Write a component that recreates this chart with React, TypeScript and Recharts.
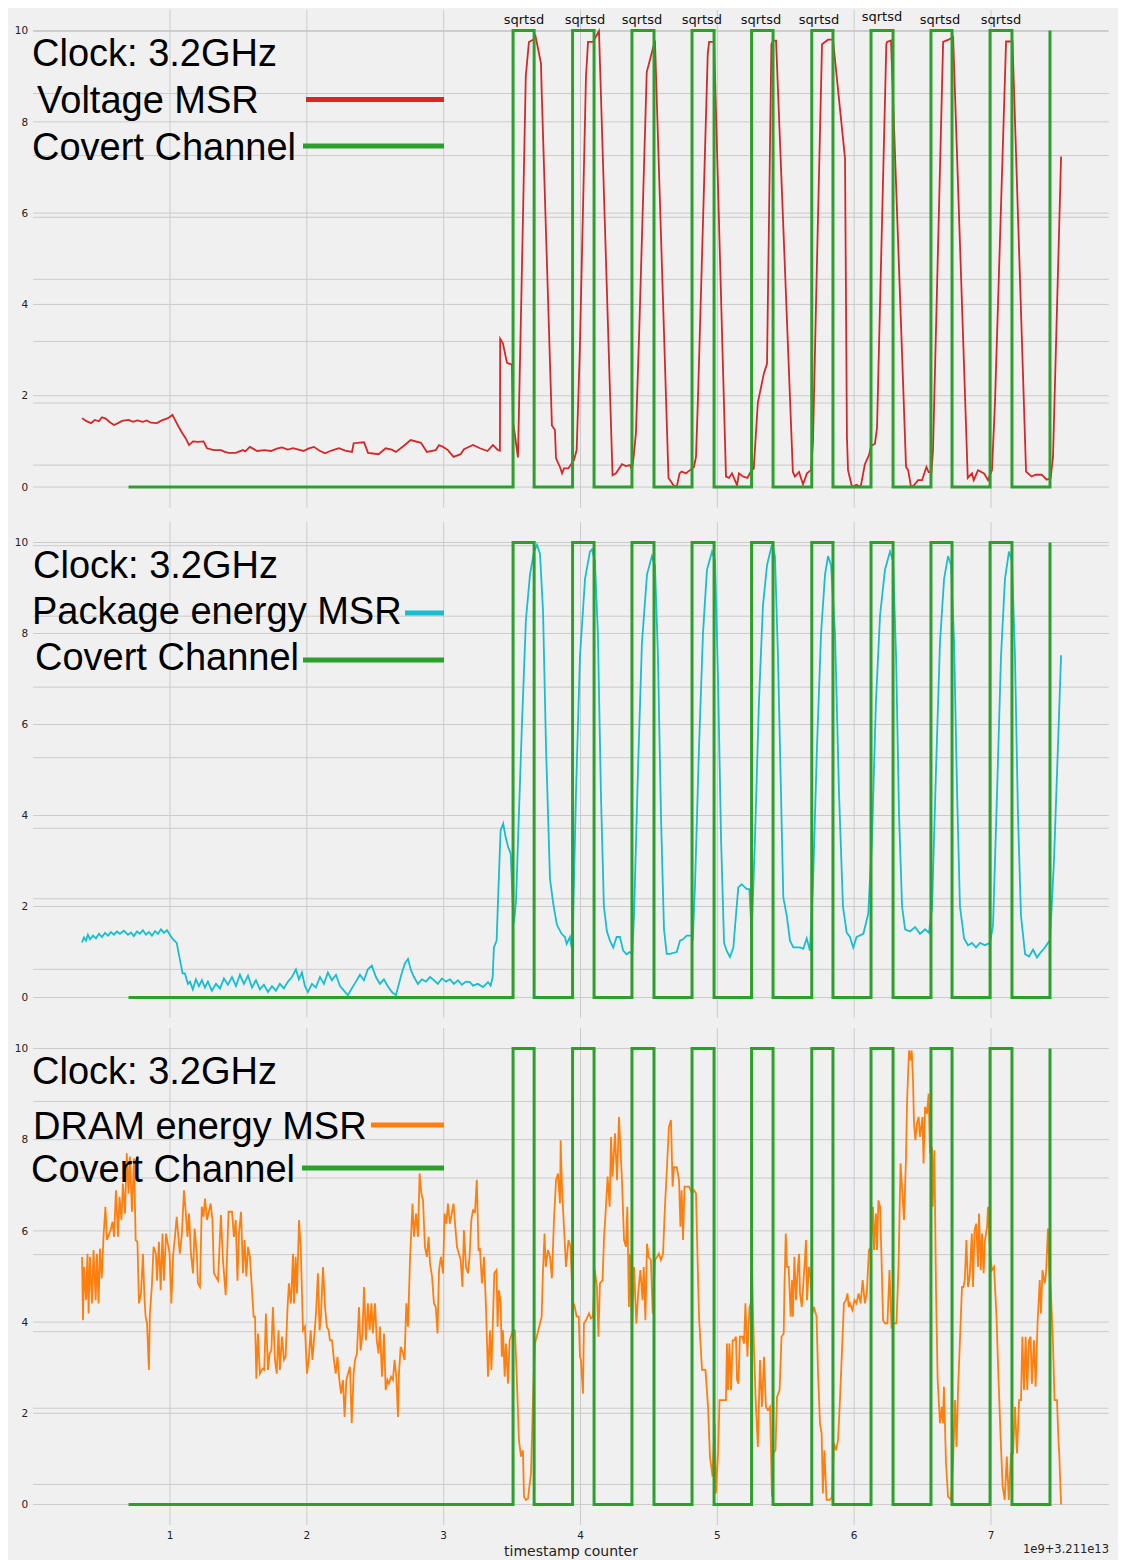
import { LineChart, Line, XAxis, YAxis, CartesianGrid, ReferenceDot } from 'recharts'

// x values are timestamp / 1e9 (offset 3.211e13), y values in plot units
const X_TICKS = [1, 2, 3, 4, 5, 6, 7]
const Y_TICKS = [0, 2, 4, 6, 8, 10]

const channelEdges = [0.697, 3.507, 3.661, 3.942, 4.099, 4.376, 4.537, 4.815, 4.976, 5.25, 5.407, 5.69, 5.845, 6.123, 6.284, 6.561, 6.715, 6.993, 7.153, 7.431]
const channelLevels = [0, 10, 0, 10, 0, 10, 0, 10, 0, 10, 0, 10, 0, 10, 0, 10, 0, 10, 0, 10]

const sqrtsdAt = [3.587, 4.033, 4.449, 4.887, 5.319, 5.743, 6.203, 6.627, 7.073]
const sqrtsdLevel = [10.25, 10.25, 10.25, 10.25, 10.25, 10.25, 10.3, 10.25, 10.25]

// secondary (twin axis) grid lines, expressed in left-axis units
const twinGrid1 = [0.48, 1.84, 3.19, 4.55, 5.91, 7.26, 8.62, 9.98]
const twinGrid2 = [0.62, 2.17, 3.72, 5.27, 6.82, 8.38, 9.93]
const twinGrid3 = [0.44, 2.11, 3.79, 5.48, 7.16, 8.84]

const voltageT = [
  0.357, 0.386, 0.422, 0.45, 0.48, 0.503, 0.53, 0.56, 0.591, 0.62, 0.65, 0.697, 0.73, 0.76, 0.802, 0.83, 0.86, 0.905, 0.94, 0.985,
  1.018, 1.04, 1.063, 1.09, 1.114, 1.139, 1.168, 1.204, 1.245, 1.27, 1.321, 1.372, 1.4, 1.428, 1.48, 1.533, 1.55, 1.584, 1.636, 1.69,
  1.738, 1.78, 1.818, 1.86, 1.899, 1.976, 2.01, 2.052, 2.09, 2.133, 2.18, 2.235, 2.28, 2.33, 2.342, 2.418, 2.447, 2.524, 2.576, 2.62,
  2.651, 2.707, 2.759, 2.834, 2.877, 2.942, 2.966, 2.995, 3.031, 3.072, 3.124, 3.148, 3.214, 3.265, 3.32, 3.36, 3.397, 3.411, 3.413, 3.433,
  3.45, 3.463, 3.499, 3.506, 3.543, 3.57, 3.6, 3.623, 3.656, 3.671, 3.711, 3.716, 3.791, 3.813, 3.821, 3.85, 3.865, 3.879, 3.912, 3.927,
  3.952, 3.972, 3.995, 4.04, 4.055, 4.091, 4.135, 4.234, 4.259, 4.303, 4.332, 4.362, 4.376, 4.387, 4.405, 4.43, 4.484, 4.544, 4.643, 4.661,
  4.679, 4.703, 4.724, 4.739, 4.769, 4.8, 4.829, 4.844, 4.859, 4.93, 4.94, 4.976, 5.063, 5.085, 5.107, 5.144, 5.158, 5.187, 5.22, 5.25,
  5.266, 5.296, 5.341, 5.363, 5.395, 5.407, 5.429, 5.552, 5.567, 5.597, 5.626, 5.655, 5.684, 5.699, 5.721, 5.765, 5.809, 5.845, 5.933, 5.947,
  5.955, 5.984, 6.017, 6.047, 6.078, 6.108, 6.123, 6.152, 6.167, 6.235, 6.24, 6.269, 6.379, 6.394, 6.416, 6.437, 6.467, 6.496, 6.528, 6.544,
  6.565, 6.576, 6.65, 6.69, 6.723, 6.83, 6.861, 6.874, 6.905, 6.949, 6.978, 7.007, 7.029, 7.11, 7.157, 7.256, 7.296, 7.326, 7.37, 7.407,
  7.436, 7.453, 7.512,
]
const voltageV = [
  1.51, 1.45, 1.4, 1.47, 1.44, 1.53, 1.5, 1.42, 1.36, 1.4, 1.45, 1.47, 1.43, 1.46, 1.43, 1.46, 1.41, 1.4, 1.46, 1.51,
  1.58, 1.45, 1.32, 1.18, 1.07, 0.92, 1.0, 0.99, 1.0, 0.85, 0.81, 0.81, 0.77, 0.75, 0.75, 0.81, 0.78, 0.88, 0.79, 0.81,
  0.79, 0.84, 0.87, 0.82, 0.85, 0.79, 0.84, 0.88, 0.8, 0.74, 0.8, 0.85, 0.8, 0.77, 0.96, 0.98, 0.75, 0.72, 0.85, 0.82,
  0.77, 0.9, 1.03, 0.97, 0.77, 0.81, 0.92, 0.88, 0.81, 0.66, 0.72, 0.83, 0.92, 0.85, 0.79, 0.92, 0.81, 0.8, 3.25, 3.15,
  2.9, 2.72, 2.68, 1.45, 0.65, 4.5, 9.0, 9.75, 9.8, 9.88, 9.28, 8.69, 1.35, 1.25, 0.63, 0.44, 0.3, 0.41, 0.41, 0.48,
  0.59, 0.81, 3.0, 9.0, 9.75, 9.75, 9.99, 0.26, 0.3, 0.5, 0.46, 0.48, 0.37, 0.63, 1.18, 3.5, 9.09, 9.78, 0.2, 0.12,
  0.04, 0.0, 0.3, 0.34, 0.3, 0.37, 0.44, 0.66, 2.0, 9.5, 9.75, 9.75, 0.23, 0.2, 0.3, 0.04, 0.3, 0.23, 0.2, 0.37,
  0.4, 1.85, 2.5, 2.7, 9.7, 9.78, 9.78, 0.33, 0.23, 0.33, 0.06, 0.3, 0.37, 1.0, 4.0, 9.7, 9.8, 9.8, 7.2, 1.1,
  0.37, 0.0, 0.05, 0.0, 0.5, 0.7, 0.9, 0.95, 1.3, 9.7, 9.75, 9.78, 0.44, 0.37, 0.0, 0.04, 0.15, 0.15, 0.44, 0.33,
  0.33, 0.8, 9.75, 9.8, 9.86, 0.2, 0.3, 0.15, 0.37, 0.3, 0.15, 0.37, 1.85, 9.76, 9.76, 0.34, 0.23, 0.27, 0.27, 0.16,
  0.2, 0.66, 7.24,
]

const packageT = [
  0.357, 0.371, 0.386, 0.4, 0.415, 0.437, 0.459, 0.481, 0.503, 0.525, 0.547, 0.568, 0.59, 0.612, 0.634, 0.663, 0.693, 0.715, 0.736, 0.758,
  0.78, 0.802, 0.824, 0.846, 0.868, 0.89, 0.912, 0.934, 0.956, 0.978, 0.999, 1.021, 1.049, 1.072, 1.092, 1.109, 1.131, 1.146, 1.167, 1.189,
  1.211, 1.233, 1.255, 1.277, 1.306, 1.336, 1.365, 1.394, 1.423, 1.453, 1.482, 1.511, 1.54, 1.57, 1.599, 1.628, 1.657, 1.686, 1.716, 1.745,
  1.774, 1.803, 1.832, 1.862, 1.891, 1.92, 1.942, 1.964, 1.986, 2.008, 2.037, 2.066, 2.096, 2.125, 2.154, 2.183, 2.213, 2.242, 2.271, 2.3,
  2.329, 2.359, 2.388, 2.417, 2.446, 2.475, 2.505, 2.534, 2.563, 2.592, 2.622, 2.651, 2.673, 2.695, 2.717, 2.739, 2.761, 2.783, 2.812, 2.841,
  2.87, 2.9, 2.929, 2.958, 2.987, 3.017, 3.046, 3.075, 3.104, 3.133, 3.163, 3.192, 3.214, 3.25, 3.287, 3.324, 3.343, 3.358, 3.367, 3.387,
  3.397, 3.416, 3.435, 3.453, 3.472, 3.49, 3.504, 3.514, 3.529, 3.545, 3.572, 3.601, 3.631, 3.66, 3.682, 3.704, 3.726, 3.748, 3.777, 3.801,
  3.826, 3.835, 3.862, 3.886, 3.899, 3.923, 3.935, 3.945, 3.967, 3.996, 4.033, 4.069, 4.084, 4.105, 4.127, 4.149, 4.171, 4.193, 4.215, 4.239,
  4.264, 4.288, 4.312, 4.337, 4.361, 4.378, 4.391, 4.42, 4.449, 4.486, 4.522, 4.544, 4.566, 4.588, 4.61, 4.63, 4.654, 4.703, 4.727, 4.749,
  4.776, 4.812, 4.82, 4.837, 4.866, 4.895, 4.924, 4.961, 4.983, 5.005, 5.027, 5.049, 5.068, 5.092, 5.117, 5.129, 5.153, 5.178, 5.215, 5.234,
  5.251, 5.275, 5.304, 5.333, 5.363, 5.399, 5.421, 5.443, 5.465, 5.482, 5.507, 5.531, 5.555, 5.604, 5.628, 5.653, 5.677, 5.699, 5.728, 5.758,
  5.787, 5.809, 5.831, 5.86, 5.889, 5.918, 5.945, 5.969, 5.993, 6.018, 6.067, 6.103, 6.13, 6.159, 6.189, 6.225, 6.262, 6.284, 6.306, 6.328,
  6.35, 6.372, 6.408, 6.445, 6.481, 6.518, 6.547, 6.569, 6.598, 6.627, 6.657, 6.686, 6.708, 6.73, 6.752, 6.773, 6.803, 6.832, 6.861, 6.89,
  6.92, 6.956, 6.993, 7.015, 7.044, 7.073, 7.102, 7.131, 7.153, 7.175, 7.197, 7.219, 7.249, 7.278, 7.307, 7.336, 7.365, 7.394, 7.416, 7.431,
  7.46, 7.489, 7.512,
]
const packageV = [
  1.21, 1.32, 1.25, 1.38, 1.28, 1.36, 1.3, 1.4, 1.33, 1.42, 1.36, 1.44, 1.38, 1.45, 1.4, 1.47, 1.38, 1.43, 1.35, 1.45,
  1.4, 1.48, 1.38, 1.44, 1.36, 1.46, 1.4, 1.5, 1.42, 1.48, 1.38, 1.28, 1.2, 0.84, 0.53, 0.53, 0.3, 0.35, 0.18, 0.4,
  0.25, 0.38, 0.22, 0.35, 0.15, 0.3, 0.2, 0.42, 0.28, 0.45, 0.25, 0.5, 0.3, 0.48, 0.22, 0.38, 0.18, 0.28, 0.12, 0.25,
  0.15, 0.3, 0.2, 0.35, 0.45, 0.62, 0.4, 0.55, 0.25, 0.12, 0.3, 0.22, 0.45, 0.3, 0.55, 0.38, 0.5, 0.25, 0.15, 0.05,
  0.2, 0.35, 0.5, 0.38, 0.62, 0.7, 0.45, 0.3, 0.4, 0.25, 0.12, 0.05, 0.3, 0.55, 0.75, 0.85, 0.6, 0.45, 0.3, 0.4,
  0.35, 0.45, 0.38, 0.3, 0.42, 0.35, 0.4, 0.3, 0.38, 0.28, 0.35, 0.34, 0.26, 0.3, 0.23, 0.34, 0.26, 0.45, 1.1, 1.25,
  2.13, 3.67, 3.82, 3.52, 3.3, 3.16, 2.13, 1.65, 2.13, 3.6, 6.0, 8.3, 9.3, 9.8, 9.95, 9.75, 8.5, 5.5, 2.6, 2.06,
  1.62, 1.55, 1.4, 1.33, 1.18, 1.33, 1.1, 1.6, 4.5, 7.5, 9.2, 9.8, 9.85, 9.6, 8.0, 4.5, 2.0, 1.45, 1.25, 1.1,
  1.33, 1.33, 1.03, 0.95, 1.0, 0.95, 1.8, 5.0, 7.8, 9.3, 9.7, 9.5, 7.5, 4.0, 1.5, 0.96, 0.96, 1.0, 1.25, 1.28,
  1.36, 1.36, 1.25, 2.5, 5.5, 8.0, 9.4, 9.8, 9.6, 7.0, 3.5, 1.2, 1.03, 0.89, 1.1, 1.55, 2.42, 2.49, 2.38, 2.38,
  1.4, 3.5, 6.5, 8.6, 9.5, 9.95, 9.7, 7.5, 4.5, 2.2, 1.8, 1.25, 1.1, 1.1, 1.07, 1.3, 1.03, 2.5, 5.5, 8.0,
  9.3, 9.7, 9.5, 8.0, 4.5, 2.0, 1.43, 1.33, 1.1, 1.33, 1.4, 1.84, 3.5, 6.5, 8.4, 9.4, 9.8, 9.6, 7.5, 4.0,
  2.0, 1.5, 1.45, 1.55, 1.4, 1.5, 1.42, 2.0, 5.0, 7.8, 9.2, 9.7, 9.5, 7.8, 4.5, 2.0, 1.3, 1.15, 1.2, 1.1,
  1.2, 1.15, 1.2, 1.6, 4.5, 7.5, 9.2, 9.8, 9.6, 7.5, 4.0, 1.8, 0.95, 0.9, 1.05, 0.88, 1.0, 1.1, 1.2, 1.25,
  3.0, 5.5, 7.52,
]

const dramT = [
  0.357, 0.364, 0.371, 0.386, 0.397, 0.405, 0.415, 0.43, 0.441, 0.457, 0.466, 0.478, 0.488, 0.501, 0.514, 0.528, 0.539, 0.566, 0.58, 0.591,
  0.605, 0.62, 0.631, 0.645, 0.656, 0.671, 0.684, 0.697, 0.707, 0.722, 0.737, 0.749, 0.762, 0.773, 0.788, 0.802, 0.814, 0.822, 0.832, 0.846,
  0.853, 0.867, 0.88, 0.897, 0.905, 0.919, 0.932, 0.945, 0.956, 0.971, 0.997, 1.01, 1.022, 1.036, 1.049, 1.063, 1.072, 1.087, 1.102, 1.114,
  1.128, 1.139, 1.153, 1.168, 1.18, 1.197, 1.204, 1.219, 1.232, 1.245, 1.256, 1.27, 1.297, 1.31, 1.321, 1.351, 1.372, 1.387, 1.407, 1.428,
  1.453, 1.467, 1.48, 1.493, 1.504, 1.519, 1.533, 1.545, 1.558, 1.57, 1.584, 1.611, 1.621, 1.631, 1.643, 1.657, 1.676, 1.689, 1.701, 1.716,
  1.728, 1.741, 1.752, 1.767, 1.78, 1.793, 1.803, 1.818, 1.833, 1.845, 1.858, 1.869, 1.884, 1.899, 1.906, 1.918, 1.928, 1.943, 1.955, 1.972,
  1.986, 2.001, 2.016, 2.028, 2.041, 2.052, 2.067, 2.081, 2.093, 2.103, 2.118, 2.133, 2.146, 2.159, 2.169, 2.184, 2.198, 2.211, 2.224, 2.235,
  2.25, 2.264, 2.276, 2.289, 2.301, 2.315, 2.328, 2.342, 2.352, 2.366, 2.381, 2.393, 2.407, 2.418, 2.432, 2.446, 2.459, 2.472, 2.483, 2.498,
  2.511, 2.524, 2.534, 2.549, 2.564, 2.576, 2.589, 2.6, 2.615, 2.629, 2.641, 2.654, 2.666, 2.673, 2.686, 2.703, 2.714, 2.727, 2.739, 2.754,
  2.772, 2.783, 2.798, 2.812, 2.824, 2.837, 2.849, 2.863, 2.877, 2.89, 2.9, 2.915, 2.929, 2.942, 2.955, 2.966, 2.98, 2.995, 3.007, 3.02,
  3.031, 3.046, 3.059, 3.072, 3.083, 3.097, 3.124, 3.137, 3.148, 3.163, 3.178, 3.189, 3.202, 3.214, 3.229, 3.242, 3.255, 3.265, 3.28, 3.295,
  3.309, 3.324, 3.338, 3.349, 3.37, 3.386, 3.394, 3.404, 3.416, 3.425, 3.433, 3.446, 3.455, 3.47, 3.482, 3.506, 3.521, 3.535, 3.55, 3.565,
  3.579, 3.587, 3.601, 3.616, 3.638, 3.656, 3.667, 3.686, 3.716, 3.725, 3.737, 3.746, 3.762, 3.777, 3.791, 3.806, 3.821, 3.835, 3.85, 3.855,
  3.865, 3.879, 3.894, 3.912, 3.927, 3.942, 3.958, 3.972, 3.987, 3.996, 4.003, 4.018, 4.025, 4.04, 4.062, 4.076, 4.091, 4.105, 4.12, 4.131,
  4.142, 4.161, 4.172, 4.183, 4.198, 4.213, 4.223, 4.234, 4.252, 4.267, 4.281, 4.303, 4.318, 4.332, 4.342, 4.354, 4.361, 4.376, 4.391, 4.408,
  4.423, 4.438, 4.453, 4.462, 4.474, 4.486, 4.498, 4.514, 4.528, 4.544, 4.559, 4.573, 4.588, 4.603, 4.617, 4.632, 4.646, 4.661, 4.673, 4.683,
  4.703, 4.72, 4.73, 4.739, 4.749, 4.76, 4.775, 4.793, 4.805, 4.815, 4.829, 4.844, 4.854, 4.866, 4.888, 4.913, 4.932, 4.946, 4.965, 4.98,
  4.99, 5.005, 5.016, 5.041, 5.063, 5.07, 5.078, 5.088, 5.1, 5.112, 5.124, 5.136, 5.144, 5.154, 5.165, 5.184, 5.195, 5.205, 5.22, 5.235,
  5.244, 5.253, 5.259, 5.268, 5.28, 5.296, 5.312, 5.326, 5.341, 5.355, 5.37, 5.385, 5.399, 5.409, 5.425, 5.436, 5.455, 5.469, 5.485, 5.491,
  5.5, 5.509, 5.521, 5.536, 5.546, 5.552, 5.563, 5.575, 5.587, 5.597, 5.604, 5.617, 5.63, 5.641, 5.648, 5.655, 5.67, 5.684, 5.695, 5.706,
  5.725, 5.736, 5.75, 5.762, 5.771, 5.782, 5.798, 5.823, 5.838, 5.852, 5.867, 5.882, 5.896, 5.911, 5.925, 5.94, 5.951, 5.96, 5.969, 5.987,
  6.002, 6.017, 6.032, 6.047, 6.062, 6.078, 6.092, 6.108, 6.123, 6.138, 6.145, 6.159, 6.167, 6.177, 6.189, 6.2, 6.211, 6.225, 6.243, 6.258,
  6.273, 6.288, 6.309, 6.324, 6.339, 6.348, 6.364, 6.379, 6.386, 6.394, 6.401, 6.412, 6.42, 6.43, 6.437, 6.447, 6.459, 6.471, 6.481, 6.499,
  6.507, 6.518, 6.532, 6.544, 6.554, 6.569, 6.574, 6.586, 6.598, 6.61, 6.627, 6.64, 6.649, 6.656, 6.671, 6.686, 6.708, 6.723, 6.737, 6.748,
  6.759, 6.773, 6.788, 6.799, 6.808, 6.82, 6.832, 6.844, 6.86, 6.868, 6.88, 6.892, 6.905, 6.912, 6.925, 6.934, 6.946, 6.956, 6.971, 6.978,
  6.993, 7.007, 7.022, 7.04, 7.055, 7.07, 7.085, 7.1, 7.115, 7.13, 7.146, 7.161, 7.175, 7.19, 7.205, 7.219, 7.229, 7.241, 7.253, 7.265,
  7.277, 7.289, 7.299, 7.314, 7.326, 7.34, 7.356, 7.365, 7.376, 7.392, 7.402, 7.416, 7.427, 7.438, 7.453, 7.464, 7.482, 7.494, 7.499, 7.512,
]
const dramV = [
  5.43, 4.04, 5.21, 4.48, 5.5, 4.19, 5.43, 4.41, 5.58, 4.48, 5.5, 4.41, 5.61, 4.96, 5.87, 6.53, 5.8, 6.02, 6.2, 5.87,
  6.89, 5.87, 6.75, 6.24, 7.04, 6.38, 7.7, 6.82, 7.63, 6.42, 7.59, 5.8, 5.76, 4.41, 4.63, 5.5, 4.48, 4.12, 3.97, 2.95,
  4.19, 4.77, 5.65, 5.5, 4.91, 5.76, 4.7, 5.94, 4.91, 5.94, 5.5, 4.41, 5.43, 5.87, 6.31, 5.8, 5.5, 5.94, 6.89, 6.45,
  5.87, 6.38, 5.5, 5.07, 6.05, 5.43, 4.85, 4.77, 6.53, 6.31, 6.71, 6.24, 6.6, 6.24, 5.07, 4.91, 6.35, 5.36, 4.59, 6.42,
  6.42, 5.87, 6.24, 4.91, 5.94, 6.42, 5.07, 5.8, 5.0, 5.65, 5.43, 4.12, 4.12, 2.76, 3.75, 2.87, 2.98, 2.95, 4.19, 2.95,
  3.31, 3.38, 4.33, 3.17, 2.87, 3.82, 2.95, 3.68, 3.17, 3.24, 4.26, 4.85, 4.41, 5.5, 4.41, 5.43, 4.63, 6.24, 5.65, 3.82,
  3.9, 2.87, 3.24, 3.82, 3.17, 3.6, 4.19, 5.07, 3.82, 4.12, 5.21, 4.33, 3.9, 3.82, 3.6, 3.6, 3.17, 2.87, 3.24, 2.8,
  2.43, 2.73, 1.92, 2.73, 2.87, 3.02, 1.78, 2.87, 3.17, 3.31, 4.33, 3.38, 3.75, 4.77, 3.6, 4.41, 3.82, 4.41, 3.75, 4.41,
  3.6, 3.31, 3.9, 2.8, 3.75, 2.51, 2.73, 2.65, 2.8, 2.73, 3.17, 2.8, 1.92, 2.87, 3.46, 3.31, 3.17, 4.41, 3.9, 5.36,
  6.6, 5.87, 6.38, 5.87, 7.26, 6.82, 6.67, 5.65, 5.43, 5.87, 5.29, 5.0, 4.41, 4.33, 3.75, 5.14, 5.43, 5.07, 6.38, 6.16,
  6.6, 6.16, 6.38, 6.6, 6.16, 5.65, 5.36, 4.77, 6.02, 5.21, 5.07, 5.43, 6.24, 6.45, 6.42, 7.12, 5.58, 5.6, 4.85, 5.43,
  4.33, 2.8, 3.82, 2.95, 5.07, 5.14, 3.9, 4.7, 4.41, 3.24, 3.82, 2.8, 3.53, 2.65, 3.6, 3.82, 3.82, 2.73, 1.41, 1.05,
  1.19, 0.17, 0.1, 0.13, 0.68, 2.65, 3.53, 3.75, 4.12, 5.07, 5.94, 5.21, 5.58, 5.43, 4.96, 6.24, 7.11, 7.26, 6.6, 7.99,
  6.89, 6.09, 5.21, 5.8, 5.65, 4.48, 4.33, 4.12, 4.12, 3.24, 3.17, 2.43, 3.97, 4.04, 4.19, 4.08, 4.12, 5.14, 4.77, 3.68,
  4.85, 4.92, 5.87, 6.38, 7.19, 6.53, 8.06, 7.19, 8.14, 7.11, 8.5, 7.11, 5.8, 5.65, 6.53, 4.33, 5.5, 3.82, 5.21, 3.97,
  4.7, 5.14, 4.48, 5.21, 4.04, 5.72, 5.43, 5.36, 4.19, 5.36, 5.43, 5.5, 5.36, 5.5, 6.53, 7.4, 8.28, 8.43, 6.97, 7.4,
  7.4, 7.11, 6.09, 6.89, 5.8, 6.97, 6.97, 6.97, 6.89, 6.82, 6.89, 6.82, 5.58, 4.12, 2.95, 2.95, 2.14, 1.05, 0.61, 1.78,
  0.24, 1.12, 2.29, 2.29, 2.29, 3.53, 2.51, 3.53, 2.51, 3.6, 3.6, 3.68, 2.73, 2.65, 3.68, 3.68, 3.53, 4.41, 3.24, 4.33,
  4.41, 5.36, 4.41, 3.38, 2.29, 1.26, 3.17, 2.14, 3.24, 2.14, 2.07, 2.14, 0.17, 1.12, 1.19, 2.36, 2.51, 3.68, 3.75, 4.85,
  5.94, 5.21, 5.21, 4.12, 4.92, 4.12, 5.43, 4.48, 5.14, 5.5, 4.63, 4.33, 4.92, 5.43, 5.8, 4.48, 5.21, 4.92, 4.19, 4.33,
  4.12, 2.87, 1.78, 1.56, 0.24, 1.19, 0.1, 0.1, 0.17, 1.34, 1.19, 1.41, 2.29, 3.38, 4.41, 4.48, 4.63, 4.33, 4.41, 4.26,
  4.48, 4.41, 4.63, 4.41, 4.92, 4.41, 4.63, 5.58, 5.65, 6.53, 5.58, 6.38, 5.58, 6.67, 6.53, 5.36, 4.04, 3.97, 3.97, 5.14,
  3.9, 3.97, 3.97, 5.21, 7.48, 7.04, 6.24, 7.62, 8.79, 9.45, 9.96, 9.74, 9.96, 9.31, 8.36, 7.99, 8.36, 8.5, 8.06, 8.5,
  7.48, 8.72, 8.57, 9.01, 7.7, 7.84, 6.53, 7.77, 4.7, 2.73, 1.78, 2.14, 1.78, 2.58, 0.9, 0.17, 0.1, 0.97, 2.29, 1.26,
  2.51, 3.6, 4.77, 4.77, 4.92, 5.8, 4.77, 5.0, 5.94, 4.77, 6.02, 6.16, 5.21, 6.38, 5.14, 5.94, 5.07, 5.8, 6.09, 6.53,
  5.5, 5.14, 5.21, 4.12, 2.73, 1.48, 0.39, 0.1, 1.05, 0.1, 1.12, 1.12, 2.14, 1.12, 2.29, 2.29, 3.68, 2.51, 3.68, 2.51,
  3.6, 3.68, 2.65, 3.6, 2.58, 3.97, 4.92, 4.19, 5.14, 4.85, 5.07, 6.05, 5.07, 4.63, 3.53, 2.29, 2.29, 1.34, 1.08, 0.0,
]

const pts = (t: number[], v: number[]) => t.map((x, i) => ({ t: x, v: v[i] }))
const channel = pts(channelEdges, channelLevels)

const FONT = '"DejaVu Sans", sans-serif'
const BIG = '"Liberation Sans", Arial, sans-serif'
const GRID = '#cbcbcb'
const W = 1118

interface PanelProps {
  top: number
  height: number
  data: { t: number; v: number }[]
  color: string
  twin: number[]
  bottom?: boolean
  labels?: boolean
}

function Panel({ top, height, data, color, twin, bottom, labels }: PanelProps) {
  const tick = { fontSize: 10.5, fill: '#222', fontFamily: FONT }
  return (
    <div style={{ position: 'absolute', left: 0, top }}>
      <LineChart width={W} height={height + (bottom ? 30 : 0)} margin={{ top: 0, right: 17.3, bottom: 0, left: 0.17 }}>
        <CartesianGrid stroke={GRID} strokeWidth={1} horizontalValues={Y_TICKS} verticalValues={X_TICKS} />
        <CartesianGrid stroke={GRID} strokeWidth={1} vertical={false} horizontalValues={twin} />
        <XAxis
          dataKey="t" type="number" domain={[0, 7.86]} ticks={X_TICKS} allowDataOverflow
          hide={!bottom} height={30} axisLine={false} tickLine={false} tickSize={6} tickMargin={1} tick={tick}
        />
        <YAxis
          type="number" domain={[-0.45, 10.45]} ticks={Y_TICKS} allowDataOverflow
          width={25} axisLine={false} tickLine={false} tickSize={5} tickMargin={0} tick={tick}
        />
        <Line data={data} dataKey="v" type="linear" stroke={color} strokeWidth={1.8} dot={false} isAnimationActive={false} />
        <Line data={channel} dataKey="v" type="stepAfter" stroke="#2ca02c" strokeWidth={3} dot={false} isAnimationActive={false} />
        {labels && sqrtsdAt.map((x, i) => (
          <ReferenceDot
            key={i} x={x} y={sqrtsdLevel[i]} r={1} fill="none" stroke="none"
            label={{ value: 'sqrtsd', position: 'center', fill: '#111', fontSize: 13, fontFamily: FONT }}
          />
        ))}
      </LineChart>
    </div>
  )
}

function Legend() {
  const t = { fontSize: 38, fontFamily: BIG, fill: '#000' }
  return (
    <svg width={W} height={1552} style={{ position: 'absolute', left: 0, top: 0, pointerEvents: 'none' }}>
      <text x={24} y={58} {...t}>Clock: 3.2GHz</text>
      <text x={29} y={105} {...t}>Voltage MSR</text>
      <text x={24} y={152} {...t}>Covert Channel</text>
      <line x1={298} x2={436} y1={91.5} y2={91.5} stroke="#d62728" strokeWidth={5} />
      <line x1={295} x2={436} y1={138} y2={138} stroke="#2ca02c" strokeWidth={5} />

      <text x={25} y={569.5} {...t}>Clock: 3.2GHz</text>
      <text x={24} y={616} {...t}>Package energy MSR</text>
      <text x={27} y={662} {...t}>Covert Channel</text>
      <line x1={397} x2={436} y1={605} y2={605} stroke="#17becf" strokeWidth={5} />
      <line x1={295} x2={436} y1={652} y2={652} stroke="#2ca02c" strokeWidth={5} />

      <text x={24} y={1076} {...t}>Clock: 3.2GHz</text>
      <text x={25} y={1131} {...t}>DRAM energy MSR</text>
      <text x={23} y={1174} {...t}>Covert Channel</text>
      <line x1={363} x2={436} y1={1117} y2={1117} stroke="#ff7f0e" strokeWidth={5} />
      <line x1={294} x2={436} y1={1160} y2={1160} stroke="#2ca02c" strokeWidth={5} />

      <text x={563} y={1548} textAnchor="middle" fontSize={14} fontFamily={FONT} fill="#222">timestamp counter</text>
      <text x={1101} y={1545} textAnchor="end" fontSize={11.5} fontFamily={FONT} fill="#222">1e9+3.211e13</text>
    </svg>
  )
}

export default function App() {
  return (
    <div style={{ position: 'relative', width: 1140, height: 1570, background: '#f0f0f0', overflow: 'hidden' }}>
      <style>{'html, body { overflow: hidden; }'}</style>
      <Panel top={2} height={497.6} data={pts(voltageT, voltageV)} color="#d62728" twin={twinGrid1} labels />
      <Panel top={513.5} height={496} data={pts(packageT, packageV)} color="#17becf" twin={twinGrid2} />
      <Panel top={1019.8} height={497} data={pts(dramT, dramV)} color="#ff7f0e" twin={twinGrid3} bottom />
      <Legend />
    </div>
  )
}
